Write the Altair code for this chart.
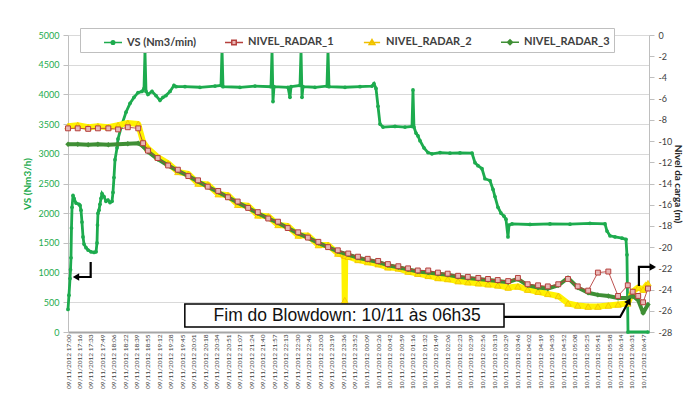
import json
from datetime import datetime
import altair as alt
import pandas as pd

# ---------------- data ----------------
X_LABELS = [
    "09/11/2012 17:00", "09/11/2012 17:16", "09/11/2012 17:33", "09/11/2012 17:49",
    "09/11/2012 18:06", "09/11/2012 18:22", "09/11/2012 18:39", "09/11/2012 18:55",
    "09/11/2012 19:12", "09/11/2012 19:28", "09/11/2012 19:45", "09/11/2012 20:01",
    "09/11/2012 20:18", "09/11/2012 20:34", "09/11/2012 20:51", "09/11/2012 21:07",
    "09/11/2012 21:24", "09/11/2012 21:40", "09/11/2012 21:57", "09/11/2012 22:13",
    "09/11/2012 22:30", "09/11/2012 22:46", "09/11/2012 23:03", "09/11/2012 23:19",
    "09/11/2012 23:36", "09/11/2012 23:52", "10/11/2012 00:09", "10/11/2012 00:26",
    "10/11/2012 00:42", "10/11/2012 00:59", "10/11/2012 01:16", "10/11/2012 01:32",
    "10/11/2012 01:49", "10/11/2012 02:06", "10/11/2012 02:23", "10/11/2012 02:39",
    "10/11/2012 02:56", "10/11/2012 03:13", "10/11/2012 03:29", "10/11/2012 03:46",
    "10/11/2012 04:02", "10/11/2012 04:19", "10/11/2012 04:35", "10/11/2012 04:52",
    "10/11/2012 05:08", "10/11/2012 05:25", "10/11/2012 05:41", "10/11/2012 05:58",
    "10/11/2012 06:14", "10/11/2012 06:31", "10/11/2012 06:47",
]
_fmt = "%d/%m/%Y %H:%M"
_base = datetime.strptime(X_LABELS[0], _fmt)
TICK_MIN = [int((datetime.strptime(s, _fmt) - _base).total_seconds() // 60) for s in X_LABELS]
X_DOMAIN = [0, 835.5]

# VS (left axis), minutes after 17:00
VS_T = [0, 1.4, 2.9, 3.6, 4.3, 5.0, 5.8, 7.2, 8.6, 11.5, 15.8, 17.3, 18.7, 20.1, 21.6, 23.0,
        25.9, 28.8, 33.1, 37.4, 40.3, 41.7, 42.4, 43.1, 44.6, 46.0, 47.5, 48.9, 51.8, 54.6,
        57.5, 60.4, 63.3, 64.7, 66.1, 67.6, 70.5, 71.9, 77.7, 83.4, 89.2, 94.9, 100.7, 106.4,
        109.3, 110.7, 112.2, 115.0, 120.8, 126.5, 132.3, 136.6, 140.9, 146.7, 152.4, 155.3,
        168.2, 189.8, 211.4, 220.0, 221.5, 222.9, 247.3, 268.9, 291.9, 293.4, 294.8, 296.2,
        316.4, 319.2, 320.7, 333.6, 335.1, 336.5, 337.9, 355.2, 372.4, 373.9, 375.3, 398.3,
        419.9, 437.2, 440.0, 442.9, 445.8, 448.7, 453.0, 470.2, 484.6, 494.7, 496.1, 497.5,
        500.4, 503.3, 506.2, 511.9, 517.7, 523.4, 535.0, 549.3, 563.7, 581.0, 585.3, 589.6,
        595.3, 599.6, 606.8, 611.2, 614.0, 618.3, 622.7, 627.0, 629.8, 632.7, 634.2, 638.5,
        664.4, 693.1, 721.9, 750.6, 772.2, 775.1, 779.4, 786.6, 796.7, 802.4, 803.8, 805.3,
        834.0]
VS_V = [380, 620, 900, 1050, 1250, 1750, 2100, 2300, 2250, 2170, 2150, 2130, 2050, 1850, 1600,
        1480, 1420, 1380, 1350, 1340, 1350, 1500, 1800, 2000, 2050, 2150, 2250, 2330, 2280,
        2200, 2220, 2180, 2200, 2350, 2600, 2900, 3100, 3250, 3500, 3700, 3850, 3950, 4030,
        4050, 4100, 4720, 4050, 4000, 4050, 3980, 3900, 3950, 3980, 4050, 4150, 4130, 4130,
        4120, 4140, 4150, 4760, 4130, 4120, 4140, 4130, 4740, 3880, 4130, 4120, 3950, 4130,
        4150, 4740, 3950, 4130, 4120, 4140, 4740, 4130, 4120, 4130, 4140, 4180, 4100, 3800,
        3500, 3450, 3460, 3450, 3460, 4075, 3450, 3350, 3300, 3220, 3100, 3020, 3000, 3020,
        3010, 3015, 3010, 2850, 2800, 2750, 2580, 2550, 2400, 2280, 2100, 2000, 1950, 1900,
        1600, 1800, 1820, 1810, 1820, 1815, 1830, 1820, 1700, 1620, 1600, 1580, 1560, 1300,
        0, 0]

# radar levels (right axis, m)
R_T = [0, 14, 29, 43, 58, 72, 86, 101, 108, 115, 129, 144, 158, 173, 187, 201, 216, 230, 244,
       259, 273, 288, 302, 316, 331, 345, 360, 374, 388, 403, 417, 431, 446, 460, 475, 489,
       503, 518, 532, 546, 561, 575, 590, 604, 618, 633, 647, 661, 676, 690, 705, 719, 733,
       748, 762, 777, 791, 805, 812, 820, 827, 834]
R1 = [-8.8, -8.8, -8.85, -8.8, -8.8, -8.9, -8.7, -8.8, -10.2, -10.9, -11.6, -12.3, -12.7,
      -13.3, -13.7, -14.3, -14.7, -15.3, -15.7, -16.3, -16.7, -17.3, -17.6, -18.2, -18.6,
      -19.1, -19.5, -20.0, -20.3, -20.6, -20.9, -21.1, -21.3, -21.6, -21.8, -22.0, -22.2,
      -22.2, -22.4, -22.5, -22.7, -22.8, -22.9, -23.0, -23.1, -23.2, -22.9, -23.5, -23.6,
      -23.7, -23.5, -23.0, -23.7, -24.1, -22.4, -22.3, -24.6, -23.6, -24.2, -24.6, -25.2,
      -23.9]
R3 = [-10.3, -10.3, -10.35, -10.3, -10.35, -10.3, -10.25, -10.2, -10.5, -11.0,
      -11.7, -12.3, -12.8, -13.3, -13.8, -14.3, -14.8, -15.3, -15.8, -16.3, -16.8, -17.3,
      -17.7, -18.2, -18.7, -19.1, -19.6, -20.0, -20.4, -20.7, -21.0, -21.2, -21.4, -21.7,
      -21.9, -22.1, -22.3, -22.4, -22.5, -22.6, -22.8, -22.9, -23.0, -23.1, -23.2, -23.3,
      -23.0, -23.6, -23.8, -23.9, -23.6, -22.9, -23.8, -24.3, -24.5, -24.6, -24.8, -24.8,
      -24.6, -25.0, -26.2, -25.4]
R2_T = R_T[:29] + [397.3, 398, 398.7] + R_T[29:]
R2 = [-8.6, -8.5, -8.7, -8.6, -8.7, -8.5, -8.3, -8.4, -10.1, -10.7, -11.5, -12.1, -12.9,
      -13.1, -14.0, -14.1, -15.0, -15.1, -16.0, -16.1, -17.0, -17.1, -17.9, -18.0, -18.9,
      -18.9, -19.8, -19.8, -20.6, -20.75, -25.0, -20.8, -20.9, -21.2, -21.4, -21.6, -21.9,
      -22.0, -22.3, -22.5, -22.7, -22.9, -23.0, -23.2, -23.3, -23.4, -23.5, -23.6, -23.8,
      -23.7, -24.0, -24.2, -24.4, -24.6, -25.3, -25.5, -25.6, -25.6, -25.5, -25.4, -25.3,
      -24.2, -23.8, -24.0, -23.4]

SERIES = ["VS (Nm3/min)", "NIVEL_RADAR_1", "NIVEL_RADAR_2", "NIVEL_RADAR_3"]

# annotation (left-axis units)
ARROW_GRP = ["L", "L", "L", "R", "R", "R", "B", "B", "B"]
ARROW_ORD = [0, 1, 2, 0, 1, 2, 0, 1, 2]
ARROW_T = [32.6, 32.6, 12.0, 821, 821, 838, 626, 794, 806.7]
ARROW_V = [1179, 926, 926, 775, 1095, 1095, 253, 253, 522]
HEAD_T = [11.5, 841, 806.7]
HEAD_V = [926, 1095, 522]
HEAD_ANG = [270, 90, 29]
BOX_TEXT = "Fim do Blowdown: 10/11 às 06h35"
BOX = {"t1": 168, "t2": 627, "v1": 84, "v2": 471}

assert len(VS_T) == len(VS_V)
assert len(R_T) == len(R1) == len(R3)
assert len(R2_T) == len(R2)

# ---------------- styles ----------------
GREEN = "#1DAB4E"
R1C = "#B5403D"
R1F = "#E8B7B6"
YEL = "#FFF200"
YELS = "#F0C000"
R3C = "#3F8F35"
FONT = "Lato"

labels_js = json.dumps(X_LABELS)
ticks_js = json.dumps(TICK_MIN)

X_SCALE = alt.Scale(domain=X_DOMAIN, nice=False, zero=False)
X_AXIS = alt.Axis(
    values=TICK_MIN,
    labelExpr=f"{labels_js}[indexof({ticks_js}, datum.value)]",
    labelAngle=270, labelFontSize=6.5, labelFont=FONT, labelColor="#404040",
    labelOverlap=False, labelBound=False, labelFlush=False, labelPadding=2,
    labelSeparation=0,
    ticks=False, grid=False, domainColor="#A6A6A6", domainWidth=2, title=None,
)
Y_ANNOT_SCALE = alt.Scale(domain=[0, 5000], nice=False, zero=False)


def xe(field):
    return alt.X(field, scale=X_SCALE, axis=X_AXIS)


yleft = alt.Y(
    "v:Q",
    scale=alt.Scale(domain=[0, 5000], nice=False, zero=False),
    axis=alt.Axis(
        orient="left", values=list(range(0, 5001, 500)), format="d",
        title="VS (Nm3/h)", titleColor=GREEN, titleFont=FONT, titleFontSize=10,
        titleFontWeight="bold", titlePadding=6,
        labelColor=GREEN, labelFont=FONT, labelFontSize=9, labelPadding=4,
        grid=True, gridColor="#D9D9D9", domainColor="#BFBFBF",
        tickColor="#BFBFBF", tickSize=5,
    ),
)
yright = alt.Y(
    "r:Q",
    scale=alt.Scale(domain=[-28, 0], nice=False, zero=False),
    axis=alt.Axis(
        orient="right", values=list(range(-28, 1, 2)), labelExpr="'' + datum.value",
        title="Nivel da carga (m)", titleColor="#262626", titleFont=FONT,
        titleFontSize=10, titleFontWeight="bold", titlePadding=1,
        labelColor="#404040", labelFont=FONT, labelFontSize=9, labelPadding=4,
        grid=False, domainColor="#BFBFBF", tickColor="#BFBFBF", tickSize=5,
    ),
)


def ya(field):
    return alt.Y(field, scale=Y_ANNOT_SCALE, axis=None)


vs_df = pd.DataFrame({"t": VS_T, "v": VS_V})
r1_df = pd.DataFrame({"t": R_T, "r": R1})
r3_df = pd.DataFrame({"t": R_T, "r": R3})
r2_df = pd.DataFrame({"t": R2_T, "r": R2})

vs_line = alt.Chart(vs_df).mark_line(color=GREEN, strokeWidth=2.8).encode(x=xe("t:Q"), y=yleft)
vs_pts = alt.Chart(vs_df).mark_point(filled=True, color=GREEN, size=14, opacity=1).encode(x=xe("t:Q"), y=yleft)
left = alt.layer(vs_line, vs_pts)

r2_line = alt.Chart(r2_df).mark_line(color=YEL, strokeWidth=6, strokeJoin="round").encode(x=xe("t:Q"), y=yright)
r2_pts = alt.Chart(r2_df).mark_point(shape="triangle-up", filled=True, fill="#FFE800",
                                     stroke=YELS, strokeWidth=0.8, size=42, opacity=1).encode(x=xe("t:Q"), y=yright)
r3_line = alt.Chart(r3_df).mark_line(color=R3C, strokeWidth=4, strokeJoin="round").encode(x=xe("t:Q"), y=yright)
r3_pts = alt.Chart(r3_df).mark_point(shape="diamond", filled=True, color=R3C, size=30, opacity=1).encode(x=xe("t:Q"), y=yright)
r1_line = alt.Chart(r1_df).mark_line(color=R1C, strokeWidth=0.9).encode(x=xe("t:Q"), y=yright)
r1_pts = alt.Chart(r1_df).mark_point(shape="square", filled=True, fill=R1F, stroke=R1C,
                                     strokeWidth=1, size=24, opacity=1).encode(x=xe("t:Q"), y=yright)
right = alt.layer(r2_line, r2_pts, r3_line, r3_pts, r1_line, r1_pts)

arrow_df = pd.DataFrame({"t": ARROW_T, "v": ARROW_V, "g": ARROW_GRP, "o": ARROW_ORD})
head_df = pd.DataFrame({"t": HEAD_T, "v": HEAD_V, "a": HEAD_ANG})
box_df = pd.DataFrame([{**BOX, "label": BOX_TEXT,
                        "tm": (BOX["t1"] + BOX["t2"]) / 2 + 4, "vm": (BOX["v1"] + BOX["v2"]) / 2}])

arrows = alt.Chart(arrow_df).mark_line(color="black", strokeWidth=2.2).encode(
    x=xe("t:Q"), y=ya("v:Q"), detail="g:N", order="o:Q")
heads = alt.Chart(head_df).mark_point(shape="triangle-up", filled=True, color="black",
                                      size=55, opacity=1).encode(
    x=xe("t:Q"), y=ya("v:Q"), angle=alt.Angle("a:Q", scale=None))
box = alt.Chart(box_df).mark_rect(fill="white", stroke="black", strokeWidth=1.5).encode(
    x=xe("t1:Q"), x2="t2:Q", y=ya("v1:Q"), y2="v2:Q")
box_text = alt.Chart(box_df).mark_text(font="Liberation Sans", fontSize=17.5, color="#111111").encode(
    x=xe("tm:Q"), y=ya("vm:Q"), text="label:N")

# legend (drawn by Vega-Lite from a hidden layer)
LEG_PATHS = [
    "M-1,0H1M-0.2,0A0.2,0.2,0,1,0,0.2,0A0.2,0.2,0,1,0,-0.2,0Z",
    "M-1,0H-0.25M0.25,0H1M-0.25,-0.25H0.25V0.25H-0.25Z",
    "M-0.9,0H0.9M0,-0.32L0.32,0.24L-0.32,0.24Z",
    "M-1,0H1M0,-0.28L0.28,0L0,0.28L-0.28,0Z",
]
LEG_FILL = [GREEN, R1F, "#FFE800", R3C]
LEG_STROKE = [GREEN, R1C, YELS, R3C]
leg_common = dict(
    orient="none", legendX=12, legendY=-7, direction="horizontal",
    fillColor="white", strokeColor="#BFBFBF", padding=4,
    title=" ", titleOrient="left", titlePadding=19, titleFontSize=4,
    symbolSize=324, symbolStrokeWidth=1.5, labelFont=FONT, labelFontSize=11,
    labelFontWeight="bold", labelColor="#404040", columnPadding=26, labelOffset=4,
)
leg_df = pd.DataFrame({"name": SERIES})
legend_layer = alt.Chart(leg_df).mark_point(filled=True, clip=True, opacity=1, size=10).encode(
    x=alt.value(-300), y=alt.value(-300),
    shape=alt.Shape("name:N", scale=alt.Scale(domain=SERIES, range=LEG_PATHS), legend=alt.Legend(**leg_common)),
    fill=alt.Fill("name:N", scale=alt.Scale(domain=SERIES, range=LEG_FILL), legend=alt.Legend(**leg_common)),
    stroke=alt.Stroke("name:N", scale=alt.Scale(domain=SERIES, range=LEG_STROKE), legend=alt.Legend(**leg_common)),
)

top = alt.layer(arrows, heads, box, box_text, legend_layer)

chart = alt.layer(left, right, top).resolve_scale(y="independent").properties(
    width=581, height=297,
    autosize=alt.AutoSizeParams(type="none"),
    padding={"left": 60, "top": 27, "right": 37, "bottom": 58},
    background="white",
).configure_view(stroke=None)

chart.save("out.html", embed_options={"renderer": "svg", "actions": False})
